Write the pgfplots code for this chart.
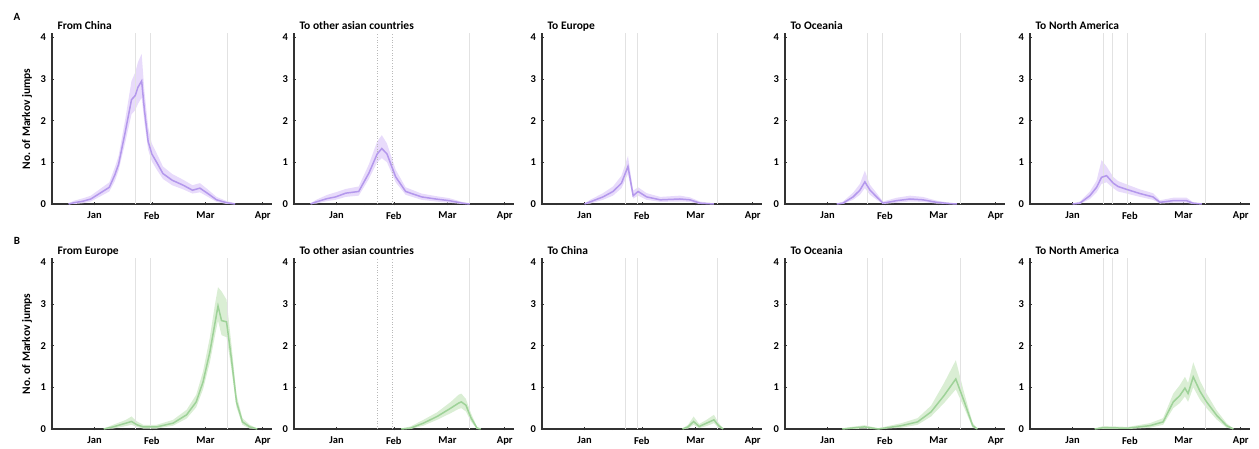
\documentclass[border=0pt]{standalone}
\usepackage{fontspec}
\setmainfont{Carlito}
\usepackage{pgfplots}
\pgfplotsset{compat=1.18}
\usepackage{pgfplotstable}
\usepgfplotslibrary{fillbetween}

\definecolor{pline}{RGB}{180,152,236}
\definecolor{pband}{RGB}{232,219,251}
\definecolor{gline}{RGB}{158,210,152}
\definecolor{gband}{RGB}{218,238,212}
\definecolor{vl}{RGB}{226,226,226}
\definecolor{vld}{RGB}{185,185,185}
\definecolor{ax}{RGB}{50,50,50}

% ---- Row A (purple) ----
\pgfplotstableread{
x y lo hi
-14 0 0 0.02
-11 0.03 0 0.08
-6 0.07 0.02 0.14
-2 0.12 0.06 0.2
3 0.26 0.18 0.36
8 0.4 0.3 0.52
11 0.7 0.55 0.88
13 0.95 0.8 1.15
16.5 1.7 1.45 2.0
20 2.5 2.15 2.95
22 2.6 2.25 3.15
23.5 2.8 2.4 3.4
25.5 2.95 2.55 3.6
27 2.25 1.95 2.7
29 1.5 1.3 1.85
31 1.2 1.02 1.45
34 0.97 0.8 1.18
37 0.73 0.6 0.9
42 0.57 0.45 0.72
48 0.45 0.35 0.58
53 0.33 0.25 0.45
57 0.38 0.28 0.5
61 0.26 0.18 0.36
66 0.1 0.05 0.17
71.5 0.03 0 0.07
76 0 0 0.02
}\tAa
\pgfplotstableread{
x y lo hi
-14 0 0 0.02
-11 0.05 0.01 0.1
-5 0.13 0.07 0.22
-0.5 0.17 0.1 0.28
5 0.26 0.17 0.36
12 0.3 0.2 0.42
17.5 0.74 0.6 0.95
22 1.2 1.0 1.5
24.5 1.33 1.1 1.65
27.3 1.2 1.0 1.45
32 0.65 0.52 0.82
37.4 0.3 0.22 0.4
46 0.17 0.1 0.25
53.6 0.12 0.06 0.19
61 0.08 0.03 0.14
68 0.02 0 0.05
72 0 0 0.01
}\tAb
\pgfplotstableread{
x y lo hi
0 0 0 0.01
3 0.05 0.01 0.1
10 0.17 0.1 0.26
15.4 0.3 0.2 0.42
20 0.5 0.38 0.68
23.5 0.9 0.72 1.15
26.3 0.2 0.13 0.32
29 0.3 0.2 0.4
33.6 0.17 0.1 0.26
41 0.1 0.05 0.17
51.6 0.12 0.06 0.2
57 0.1 0.05 0.16
62.4 0.02 0 0.06
70 0 0 0.01
}\tAc
\pgfplotstableread{
x y lo hi
5 0 0 0.01
8.4 0.02 0 0.06
13.8 0.17 0.1 0.27
17.5 0.33 0.22 0.48
20.2 0.53 0.38 0.8
23 0.33 0.22 0.46
26.6 0.17 0.1 0.26
30 0.02 0 0.06
37.4 0.08 0.03 0.15
44.6 0.12 0.06 0.2
51.6 0.1 0.05 0.17
59 0.04 0.01 0.08
66 0.01 0 0.03
70 0 0 0
}\tAd
\pgfplotstableread{
x y lo hi
0 0 0 0.01
4 0.02 0 0.06
9.4 0.2 0.12 0.3
13 0.4 0.28 0.56
15.7 0.64 0.48 1.05
18.4 0.68 0.52 0.9
22 0.5 0.38 0.65
24.6 0.42 0.3 0.55
29.3 0.35 0.25 0.47
36.5 0.25 0.17 0.35
43.5 0.17 0.1 0.26
47.3 0.04 0.01 0.09
54.4 0.08 0.03 0.15
61.7 0.08 0.03 0.15
65 0.02 0 0.05
70 0 0 0
}\tAe
% ---- Row B (green) ----
\pgfplotstableread{
x y lo hi
5 0 0 0.01
10 0.05 0.01 0.1
17 0.14 0.07 0.22
20 0.18 0.1 0.3
23 0.1 0.05 0.18
26.4 0.05 0.01 0.1
33.6 0.05 0.01 0.1
42.5 0.14 0.08 0.22
49.8 0.34 0.25 0.46
55 0.65 0.52 0.82
58.7 1.13 0.95 1.38
62.4 1.85 1.6 2.2
65 2.5 2.2 2.95
66.8 2.95 2.6 3.4
68.7 2.6 2.25 3.3
71.4 2.57 2.2 3.1
74 1.7 1.45 2.05
76.8 0.65 0.52 0.82
80 0.17 0.1 0.26
84 0.05 0.01 0.1
88 0 0 0.01
}\tBa
\pgfplotstableread{
x y lo hi
35 0 0 0.01
40 0.02 0 0.06
47 0.14 0.08 0.22
54.4 0.3 0.22 0.4
61.8 0.5 0.38 0.65
66 0.62 0.48 0.82
67.5 0.65 0.5 0.85
70 0.57 0.42 0.72
72.7 0.27 0.18 0.38
76 0.02 0 0.05
78 0 0 0
}\tBb
\pgfplotstableread{
x y lo hi
53 0 0 0.01
56 0.05 0.01 0.1
59 0.18 0.1 0.3
62 0.06 0.02 0.12
66 0.14 0.07 0.22
70 0.22 0.14 0.34
72.5 0.08 0.03 0.15
75 0 0 0.01
}\tBc
\pgfplotstableread{
x y lo hi
8 0 0 0.01
12.7 0.02 0 0.05
20 0.05 0.01 0.09
27.4 0 0 0.02
40 0.08 0.03 0.14
48.7 0.17 0.1 0.26
56 0.41 0.3 0.56
63 0.8 0.62 1.1
69.4 1.2 0.95 1.65
74 0.65 0.5 0.85
78.5 0.08 0.03 0.15
81 0 0 0.01
}\tBd
\pgfplotstableread{
x y lo hi
12 0 0 0.01
16.6 0.03 0 0.07
30 0.02 0 0.05
41.9 0.08 0.03 0.14
49 0.17 0.1 0.26
54.5 0.65 0.5 0.85
58 0.8 0.62 1.05
60.8 0.98 0.78 1.25
62.5 0.85 0.65 1.1
65.3 1.25 1.0 1.6
69 0.9 0.7 1.15
72.5 0.65 0.5 0.85
77.9 0.33 0.23 0.45
83.3 0.08 0.03 0.14
87 0 0 0.01
}\tBe

\newcommand\tickfont{\bfseries\fontsize{10.5}{12}\selectfont}
\pgfplotsset{panel/.style={
  scale only axis, width=220pt, height=171pt,
  xmin=-23, xmax=96, ymin=0, ymax=4.1,
  axis lines=left, axis line style={ax, line width=1.5pt, -},
  xtick={0,31,60,91}, xticklabels={Jan,Feb,Mar,Apr},
  minor xtick={-15,15,46,75},
  ytick={0,1,2,3,4},
  tick style={ax, line width=0.6pt},
  major tick length=3pt, minor tick length=2.5pt,
  tick align=center,
  x tick label style={font=\tickfont, yshift=-3pt},
  y tick label style={font=\tickfont, xshift=-1pt},
  /pgf/number format/assume math mode=true,
  clip=false,
  title style={at={(0,1)}, anchor=base west, xshift=2pt, yshift=-2.5pt, font=\bfseries\fontsize{11.5}{13}\selectfont},
  anchor=south west,
}}

\newcommand\vln[1]{\addplot[vl, line width=0.9pt, forget plot] coordinates {(#1,0) (#1,4.1)};}
\newcommand\vld[1]{\addplot[vld, line width=0.6pt, dotted, forget plot] coordinates {(#1,0) (#1,4.1)};}

% #1 x0, #2 y0 (tikz), #3 title, #4 table, #5 line colour, #6 band colour, #7 vertical lines
\newcommand\panel[7]{%
\begin{axis}[panel, at={(#1pt,#2pt)}, title={#3}]
  #7
  \addplot[name path=hi, draw=none, forget plot] table[x=x,y=hi]{#4};
  \addplot[name path=lo, draw=none, forget plot] table[x=x,y=lo]{#4};
  \addplot[fill=#6, draw=none, forget plot] fill between[of=hi and lo];
  \addplot[#5, line width=1.5pt] table[x=x,y=y]{#4};
\end{axis}}

\begin{document}
\begin{tikzpicture}
\node[font=\bfseries\fontsize{11}{13}\selectfont] at (17pt,432pt) {A};
\node[font=\bfseries\fontsize{11}{13}\selectfont] at (17pt,208pt) {B};
\node[rotate=90, font=\bfseries\fontsize{11.5}{13}\selectfont] at (27pt,330pt) {No. of Markov jumps};
\node[rotate=90, font=\bfseries\fontsize{11.5}{13}\selectfont] at (27pt,105pt) {No. of Markov jumps};

\panel{52}{245}{From China}{\tAa}{pline}{pband}{\vln{22}\vln{30}\vln{72}}
\panel{294}{245}{To other asian countries}{\tAb}{pline}{pband}{\vld{22}\vld{30}\vln{72}}
\panel{542}{245}{To Europe}{\tAc}{pline}{pband}{\vln{22}\vln{28.5}\vln{72}}
\panel{785}{245}{To Oceania}{\tAd}{pline}{pband}{\vln{21.5}\vln{29.5}\vln{72}}
\panel{1030}{245}{To North America}{\tAe}{pline}{pband}{\vln{16.5}\vln{21.5}\vln{29.5}\vln{72}}

\panel{52}{20}{From Europe}{\tBa}{gline}{gband}{\vln{22}\vln{30}\vln{72}}
\panel{294}{20}{To other asian countries}{\tBb}{gline}{gband}{\vld{22}\vld{30}\vln{72}}
\panel{542}{20}{To China}{\tBc}{gline}{gband}{\vln{22}\vln{28.5}\vln{72}}
\panel{785}{20}{To Oceania}{\tBd}{gline}{gband}{\vln{21.5}\vln{29.5}\vln{72}}
\panel{1030}{20}{To North America}{\tBe}{gline}{gband}{\vln{16.5}\vln{21.5}\vln{29.5}\vln{72}}
\pgfresetboundingbox
\path[use as bounding box] (0,0) rectangle (1259pt,449pt);
\end{tikzpicture}
\end{document}
